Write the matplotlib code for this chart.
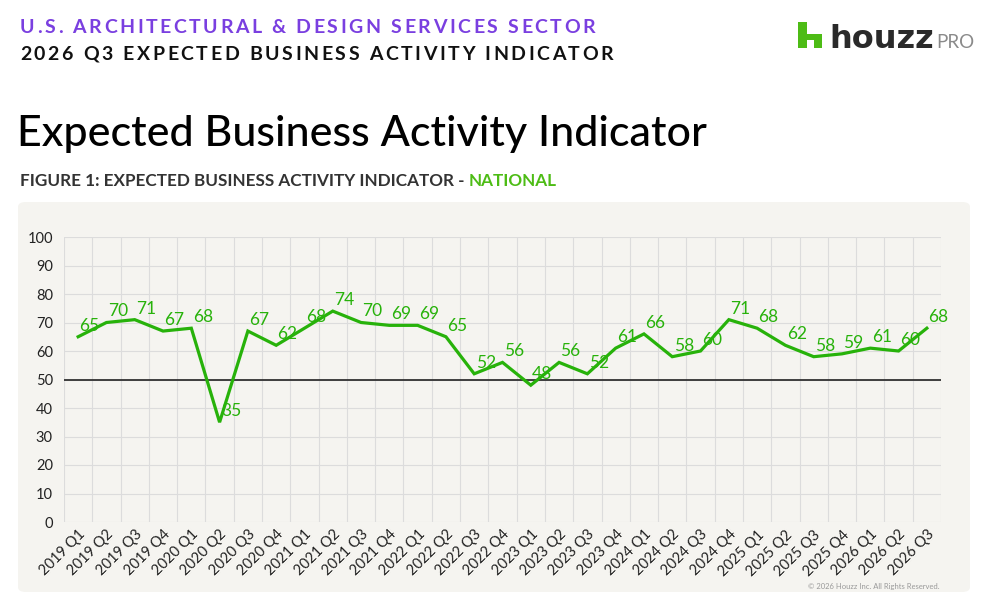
import matplotlib.pyplot as plt
from matplotlib.patches import FancyBboxPatch, Polygon

# quarters and indicator values
quarters = [f"{y} Q{q}" for y in range(2019, 2027) for q in range(1, 5)][:31]
values = [65, 70, 71, 67, 68, 35, 67, 62, 68, 74, 70, 69, 69, 65, 52, 56,
          48, 56, 52, 61, 66, 58, 60, 71, 68, 62, 58, 59, 61, 60, 68]
yticks = list(range(0, 101, 10))

GREEN = '#27b20a'
LOGO_GREEN = '#4dbc15'
PURPLE = '#7a3fe0'
PANEL = '#f5f4f0'

plt.rcParams['font.family'] = ['Lato', 'DejaVu Sans']

W, H = 990, 610
fig = plt.figure(figsize=(W / 100, H / 100), dpi=100)
fig.patch.set_facecolor('white')
r = fig.canvas.get_renderer()


def px(x, y):
    # pixel coords (from top-left) to figure fraction
    return x / W, 1 - y / H


def tracked_text(x, y, s, spacing, **kw):
    # draw text char by char with extra letter spacing (pixels)
    cx = x
    for ch in s:
        t = fig.text(*px(cx, y), ch, va='baseline', ha='left', **kw)
        w = t.get_window_extent(renderer=r).width
        if ch == ' ':
            w = t.get_fontsize() * 100 / 72 * 0.26
        cx += w + spacing
    return cx


# background panel
x0, y0 = px(18, 592)
x1, y1 = px(970, 202)
fig.add_artist(FancyBboxPatch((x0, y0), x1 - x0, y1 - y0,
                              boxstyle='round,pad=0,rounding_size=0.008',
                              transform=fig.transFigure, facecolor=PANEL,
                              edgecolor='none', zorder=-5))

# header
tracked_text(20, 33, "U.S. ARCHITECTURAL & DESIGN SERVICES SECTOR", 2.55,
             fontsize=14, fontweight='bold', color=PURPLE)
tracked_text(20, 60, "2026 Q3 EXPECTED BUSINESS ACTIVITY INDICATOR", 2.55,
             fontsize=14, fontweight='bold', color='#111111')

fig.text(*px(17, 146), "Expected Business Activity Indicator", fontsize=31,
         fontweight=500, color='#000000', va='baseline', ha='left')

t1 = fig.text(*px(20, 186), "FIGURE 1: EXPECTED BUSINESS ACTIVITY INDICATOR - ",
              fontsize=12.3, fontweight='bold', color='#333333', va='baseline')
bb = t1.get_window_extent(renderer=r)
fig.text(bb.x1 / W, 1 - 186 / H, "NATIONAL", fontsize=12.3, fontweight='bold',
         color=LOGO_GREEN, va='baseline')

# houzz logo
lx, ly, lw, lh = 798, 22, 24, 26
shape = [(0, 0), (0, 1), (0.36, 1), (0.36, 0.55), (1, 0.55), (1, 0),
         (0.66, 0), (0.66, 0.3), (0.36, 0.3), (0.36, 0)]
pts = [px(lx + a * lw, ly + lh - b * lh) for a, b in shape]
fig.add_artist(Polygon(pts, closed=True, transform=fig.transFigure,
                       facecolor=LOGO_GREEN, edgecolor='none'))
th = fig.text(*px(829, 48), "houzz", fontsize=23, fontweight='bold',
              family='DejaVu Sans', color='#2a2a2a', va='baseline')
hb = th.get_window_extent(renderer=r)
fig.text(hb.x1 / W + 3 / W, 1 - 48 / H, "PRO", fontsize=13.5, color='#8a8a8a',
         va='baseline')

# chart
ax = fig.add_axes([64 / W, 1 - 522 / H, (941 - 64) / W, (522 - 237) / H])
ax.set_facecolor(PANEL)
xs = list(range(len(values)))
ax.plot(xs, values, color=GREEN, lw=2.3, solid_joinstyle='miter', zorder=3)
for x, v in zip(xs, values):
    ax.annotate(str(v), (x, v), xytext=(1, 8), textcoords='offset points',
                ha='left', va='center', fontsize=12.5, color=GREEN, zorder=4)
ax.axhline(50, color='#222222', lw=1.2, zorder=2)

ax.set_xlim(-0.5, len(values) - 0.5)
ax.set_ylim(0, 100)
ax.set_yticks(yticks)
ax.set_xticks(xs)
ax.set_xticklabels(quarters, rotation=45, ha='right', rotation_mode='anchor',
                   fontsize=10.5, color='#222222')
ax.set_xticks([x - 0.5 for x in range(len(values) + 1)], minor=True)
ax.tick_params(axis='y', length=0, pad=8, labelsize=10.5, labelcolor='#222222')
ax.tick_params(axis='x', which='both', length=0, pad=4)
ax.grid(True, axis='y', color='#dcdcdc', lw=0.8)
ax.grid(True, axis='x', which='minor', color='#dcdcdc', lw=0.8)
ax.set_axisbelow(True)
for s in ax.spines.values():
    s.set_visible(False)

fig.text(*px(940, 589), "\u00a9 2026 Houzz Inc. All Rights Reserved.",
         fontsize=5.5, color='#9a9a9a', ha='right', va='baseline')

fig.savefig('out.png', dpi=100)
